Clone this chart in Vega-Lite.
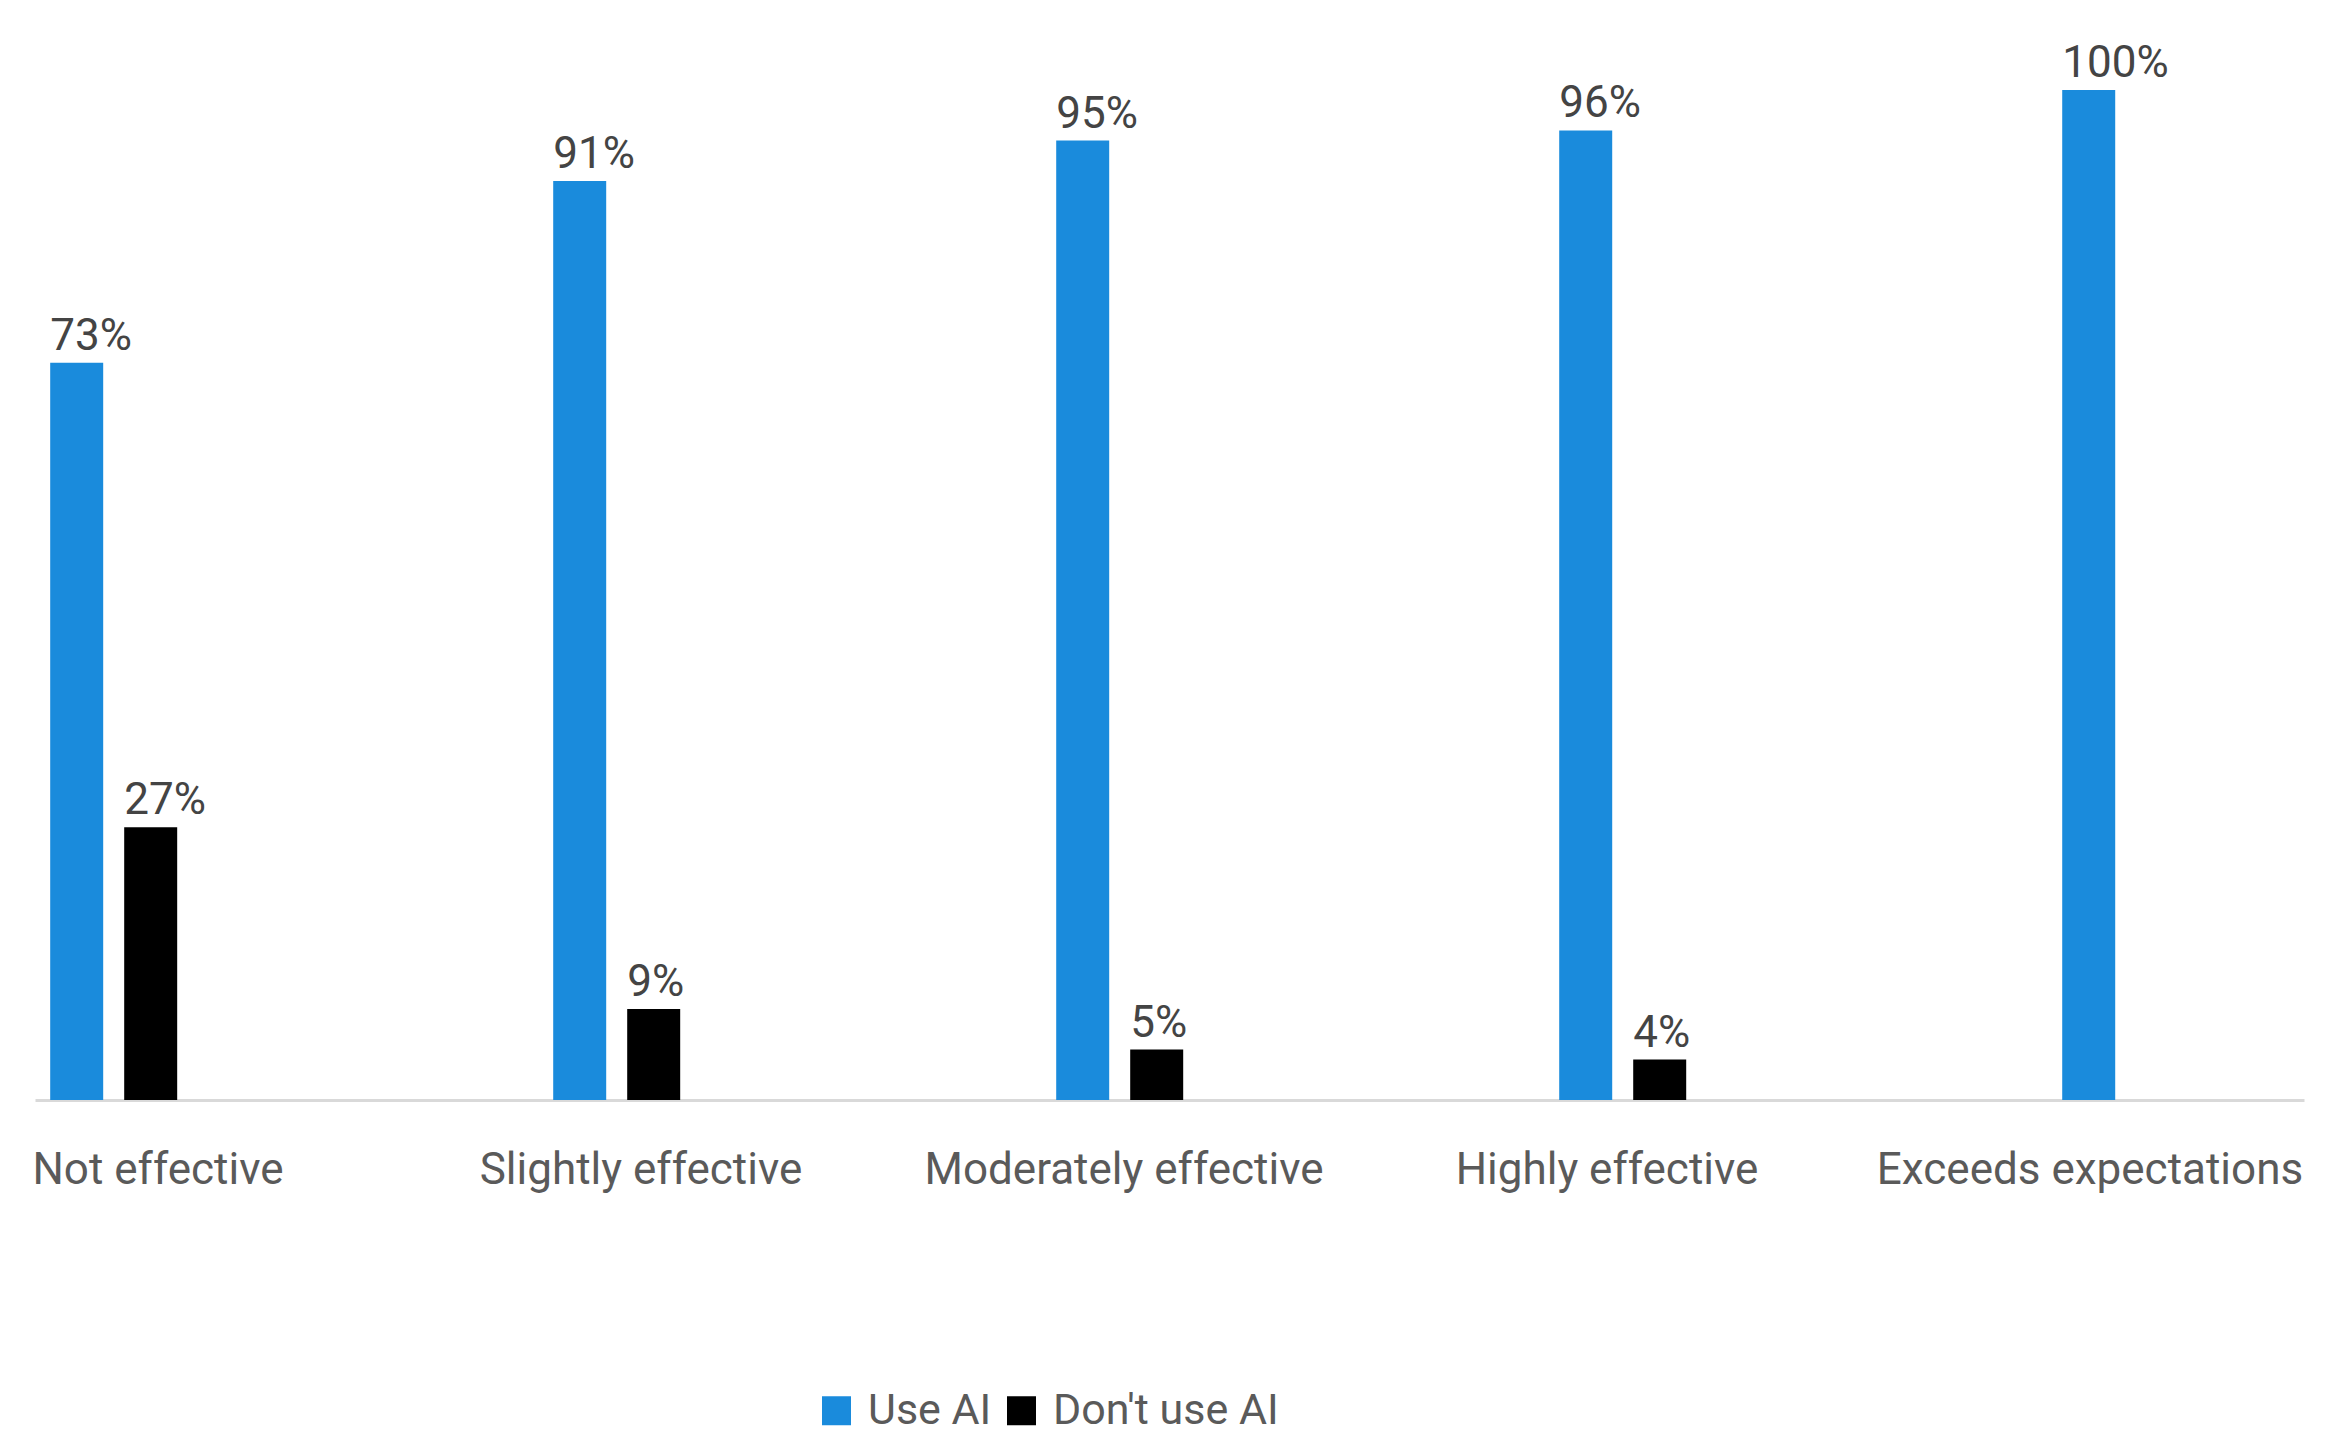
{
  "$schema": "https://vega.github.io/schema/vega-lite/v6.json",
  "width": 2269,
  "height": 1010,
  "autosize": {"type": "none"},
  "padding": {"left": 35, "top": 90, "right": 27, "bottom": 333},
  "background": "white",
  "config": {"view": {"stroke": null}, "font": "Roboto"},
  "data": {
    "values": [
      {"effectiveness": "Not effective", "group": "Use AI", "share": 0.73},
      {"effectiveness": "Not effective", "group": "Don't use AI", "share": 0.27},
      {"effectiveness": "Slightly effective", "group": "Use AI", "share": 0.91},
      {"effectiveness": "Slightly effective", "group": "Don't use AI", "share": 0.09},
      {"effectiveness": "Moderately effective", "group": "Use AI", "share": 0.95},
      {"effectiveness": "Moderately effective", "group": "Don't use AI", "share": 0.05},
      {"effectiveness": "Highly effective", "group": "Use AI", "share": 0.96},
      {"effectiveness": "Highly effective", "group": "Don't use AI", "share": 0.04},
      {"effectiveness": "Exceeds expectations", "group": "Use AI", "share": 1.0}
    ]
  },
  "layer": [
    {
      "encoding": {
        "x": {
          "field": "effectiveness",
          "type": "nominal",
          "sort": ["Not effective", "Slightly effective", "Moderately effective", "Highly effective", "Exceeds expectations"],
          "scale": {"paddingInner": 0.6871, "paddingOuter": 0.099, "align": 0, "round": false},
          "axis": {
            "orient": "bottom",
            "title": null,
            "labels": false,
            "ticks": false,
            "grid": false,
            "domainColor": "#d9d9d9",
            "domainWidth": 3
          }
        },
        "xOffset": {
          "field": "group",
          "type": "nominal",
          "scale": {"domain": ["Use AI", "Don't use AI"], "paddingInner": 0.2838, "paddingOuter": 0.2054, "round": false}
        },
        "y": {
          "field": "share",
          "type": "quantitative",
          "scale": {"domain": [0, 1]},
          "axis": null
        }
      },
      "layer": [
        {
          "mark": {"type": "bar"},
          "encoding": {
            "color": {
              "field": "group",
              "type": "nominal",
              "scale": {"domain": ["Use AI", "Don't use AI"], "range": ["#1a8bdc", "#000000"]},
              "legend": {
                "orient": "none",
                "legendX": 780,
                "legendY": 1299,
                "direction": "horizontal",
                "title": null,
                "padding": 0,
                "symbolType": "square",
                "symbolSize": 841,
                "symbolStrokeWidth": 0,
                "symbolOpacity": 1,
                "labelFont": "Roboto",
                "labelFontSize": 43,
                "labelColor": "#5a5a5a",
                "labelLimit": 600,
                "labelOffset": 10,
                "columnPadding": 8
              }
            }
          }
        },
        {
          "mark": {
            "type": "text",
            "align": "left",
            "baseline": "alphabetic",
            "dx": -26.5,
            "dy": -13,
            "font": "Roboto",
            "fontSize": 44,
            "color": "#444444"
          },
          "encoding": {
            "text": {"field": "share", "type": "quantitative", "format": ".0%"}
          }
        }
      ]
    },
    {
      "mark": {"type": "rule", "opacity": 0},
      "encoding": {
        "x": {
          "field": "effectiveness",
          "type": "nominal",
          "sort": ["Not effective", "Slightly effective", "Moderately effective", "Highly effective", "Exceeds expectations"],
          "scale": {"paddingInner": 0.4907, "paddingOuter": 0.0942, "align": 0, "round": false},
          "axis": {
            "orient": "bottom",
            "title": null,
            "labelAngle": 0,
            "domain": false,
            "ticks": false,
            "tickSize": 0,
            "grid": false,
            "labelPadding": 48,
            "labelFont": "Roboto",
            "labelFontSize": 44,
            "labelColor": "#5a5a5a",
            "labelLimit": 800,
            "labelOverlap": false
          }
        }
      }
    }
  ],
  "resolve": {"scale": {"x": "independent"}, "axis": {"x": "independent"}}
}
